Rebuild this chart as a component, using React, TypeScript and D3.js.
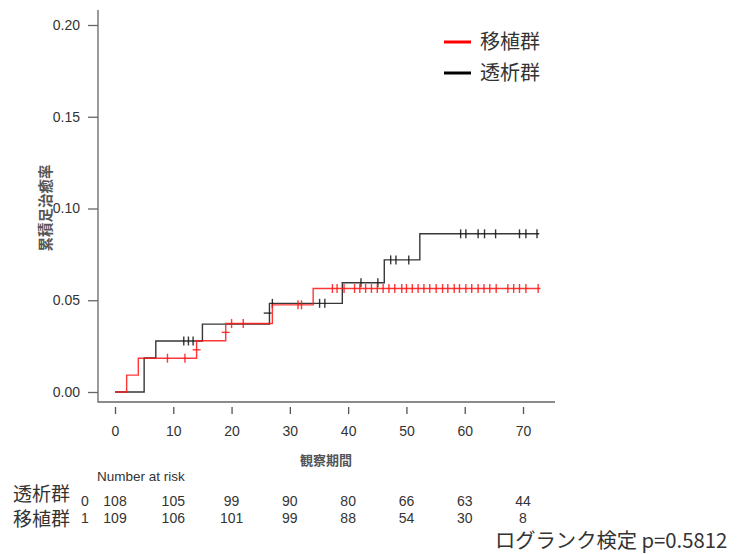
import React, { useEffect, useRef } from 'react';
import * as d3 from 'd3';

const xTicks = [0, 10, 20, 30, 40, 50, 60, 70];
const yTicks = [0, 0.05, 0.1, 0.15, 0.2];

// 移植群 (red)
const transplantSteps: [number, number][] = [
  [0, 0], [2, 0.0092], [4, 0.0184], [14, 0.0279], [19, 0.0373], [27, 0.0475], [34, 0.0564],
];
const transplantEnd = 73;
const transplantCensor = [
  9, 12, 20, 22, 31.4, 32, 37.3, 38.1, 39.3, 41.1, 42, 43, 44, 45, 46, 47, 48, 49.2, 50, 51, 52,
  53, 54, 55.1, 56.2, 57.1, 58.2, 59.1, 60.2, 61.2, 62.3, 63.3, 64.3, 65.4, 67.4, 68.4, 69.4, 70.5, 72.6,
];
const transplantCross: [number, number][] = [[14, 0.023], [19, 0.0325]];

// 透析群 (black)
const dialysisSteps: [number, number][] = [
  [0, 0], [5, 0.0185], [7, 0.0278], [15, 0.037], [26.5, 0.0483], [39, 0.0595], [46.2, 0.072], [52.3, 0.0862],
];
const dialysisEnd = 72.8;
const dialysisCensor = [
  11.8, 12.6, 13.4, 27, 35.1, 36, 42.2, 45.1, 47.3, 48.2, 50.4, 59.3, 60.2, 62.3, 63.4, 65.3, 69.4, 70.5, 72.4,
];
const dialysisCross: [number, number][] = [[26.2, 0.043]];

const riskTimes = [0, 10, 20, 30, 40, 50, 60, 70];
const riskDialysis = [108, 105, 99, 90, 80, 66, 63, 44];
const riskTransplant = [109, 106, 101, 99, 88, 54, 30, 8];

const latin = '"Liberation Sans", Arial, sans-serif';
const cjk = '"Noto Sans CJK JP", "Noto Sans", sans-serif';

function levelAt(steps: [number, number][], t: number) {
  let v = 0;
  for (const s of steps) if (s[0] <= t) v = s[1];
  return v;
}

export default function App() {
  const svgRef = useRef<SVGSVGElement>(null);

  useEffect(() => {
    if (!svgRef.current) return;
    const svg = d3.select(svgRef.current);
    svg.selectAll('*').remove();

    const x = d3.scaleLinear().domain([0, 70]).range([115, 523]);
    const y = d3.scaleLinear().domain([0, 0.2]).range([392, 25]);

    // Y axis
    const yAxis = svg.append('g')
      .attr('transform', 'translate(98,0)')
      .call(d3.axisLeft(y).tickValues(yTicks).tickSize(10).tickPadding(8).tickFormat(d3.format('.2f')));
    yAxis.select('.domain').remove();
    yAxis.selectAll('line').attr('stroke', '#666').attr('stroke-width', 1.3);
    yAxis.selectAll('text').attr('font-family', latin).attr('font-size', 14).attr('fill', '#333');

    // L frame
    svg.append('path')
      .attr('d', `M98,10V402H555`)
      .attr('fill', 'none')
      .attr('stroke', '#666')
      .attr('stroke-width', 1.3);

    // X axis (ticks only, offset)
    const xAxis = svg.append('g')
      .attr('transform', 'translate(0,407)')
      .call(d3.axisBottom(x).tickValues(xTicks).tickSize(7).tickPadding(12));
    xAxis.select('.domain').remove();
    xAxis.selectAll('line').attr('stroke', '#555').attr('stroke-width', 1.3);
    xAxis.selectAll('text').attr('font-family', latin).attr('font-size', 14).attr('fill', '#333');

    const line = d3.line<[number, number]>()
      .x(d => x(d[0]))
      .y(d => y(d[1]))
      .curve(d3.curveStepAfter);

    const drawCurve = (
      steps: [number, number][], end: number, censor: number[], cross: [number, number][], color: string,
    ) => {
      const pts: [number, number][] = [...steps, [end, steps[steps.length - 1][1]]];
      const g = svg.append('g');
      g.append('path')
        .datum(pts)
        .attr('d', line)
        .attr('fill', 'none')
        .attr('stroke', color)
        .attr('stroke-width', 1.4);
      g.selectAll('.cens')
        .data(censor)
        .enter()
        .append('line')
        .attr('x1', d => x(d)).attr('x2', d => x(d))
        .attr('y1', d => y(levelAt(steps, d)) - 4.5)
        .attr('y2', d => y(levelAt(steps, d)) + 4.5)
        .attr('stroke', color)
        .attr('stroke-width', 1.4);
      g.selectAll('.cross')
        .data(cross)
        .enter()
        .append('line')
        .attr('x1', d => x(d[0]) - 4).attr('x2', d => x(d[0]) + 4)
        .attr('y1', d => y(d[1])).attr('y2', d => y(d[1]))
        .attr('stroke', color)
        .attr('stroke-width', 1.4);
    };

    drawCurve(dialysisSteps, dialysisEnd, dialysisCensor, dialysisCross, 'rgba(20,20,20,0.85)');
    drawCurve(transplantSteps, transplantEnd, transplantCensor, transplantCross, 'rgba(255,20,20,0.85)');

    // Legend
    const legend = [
      { label: '移植群', color: '#ff0000', yy: 42 },
      { label: '透析群', color: '#000000', yy: 73 },
    ];
    legend.forEach(l => {
      svg.append('line')
        .attr('x1', 444).attr('x2', 471).attr('y1', l.yy).attr('y2', l.yy)
        .attr('stroke', l.color).attr('stroke-width', 3);
      svg.append('text')
        .attr('x', 480).attr('y', l.yy).attr('dy', '0.36em')
        .attr('font-family', cjk).attr('font-size', 20).attr('fill', '#333')
        .text(l.label);
    });

    // Axis titles
    svg.append('text')
      .attr('x', 326).attr('y', 460).attr('dy', '0.36em')
      .attr('text-anchor', 'middle')
      .attr('font-family', cjk).attr('font-size', 13).attr('font-weight', 'bold').attr('fill', '#555')
      .text('観察期間');
    svg.append('text')
      .attr('transform', 'translate(45.5,208) rotate(-90)')
      .attr('text-anchor', 'middle').attr('dy', '0.36em')
      .attr('font-family', cjk).attr('font-size', 14.5).attr('font-weight', 'bold').attr('fill', '#555')
      .text('累積足治癒率');

    // Number at risk table
    svg.append('text')
      .attr('x', 97).attr('y', 476).attr('dy', '0.36em')
      .attr('font-family', latin).attr('font-size', 13.5).attr('fill', '#333')
      .text('Number at risk');

    const rows = [
      { label: '透析群', code: '0', values: riskDialysis, yy: 501, ly: 494 },
      { label: '移植群', code: '1', values: riskTransplant, yy: 518, ly: 519 },
    ];
    rows.forEach(r => {
      svg.append('text')
        .attr('x', 13).attr('y', r.ly).attr('dy', '0.36em')
        .attr('font-family', cjk).attr('font-size', 19).attr('fill', '#333')
        .text(r.label);
      svg.append('text')
        .attr('x', 85).attr('y', r.yy).attr('dy', '0.36em').attr('text-anchor', 'middle')
        .attr('font-family', latin).attr('font-size', 14).attr('fill', '#333')
        .text(r.code);
      svg.selectAll(null)
        .data(r.values)
        .enter()
        .append('text')
        .attr('x', (_d, i) => x(riskTimes[i]))
        .attr('y', r.yy).attr('dy', '0.36em').attr('text-anchor', 'middle')
        .attr('font-family', latin).attr('font-size', 14).attr('fill', '#333')
        .text(d => String(d));
    });

    svg.append('text')
      .attr('x', 495).attr('y', 541).attr('dy', '0.36em')
      .attr('font-family', cjk).attr('font-size', 20.3).attr('fill', '#333')
      .text('ログランク検定 p=0.5812');
  }, []);

  return (
    <svg
      ref={svgRef}
      width={744}
      height={554}
      style={{ position: 'absolute', left: 0, top: 0, background: '#fff' }}
    />
  );
}
